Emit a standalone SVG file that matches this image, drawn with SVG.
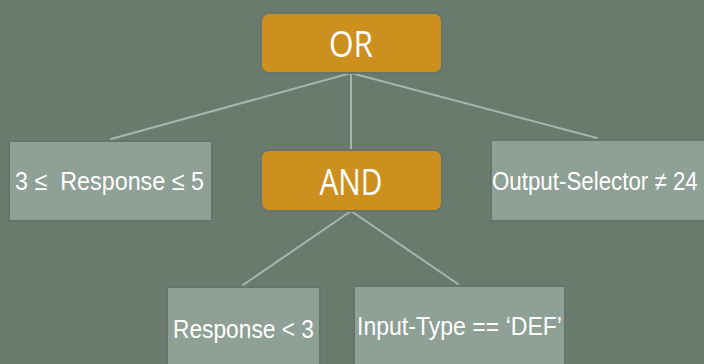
<svg xmlns="http://www.w3.org/2000/svg" width="704" height="364" viewBox="0 0 704 364">
  <defs>
    <style>
      .bg { fill: #6a7b6d; }
      .op rect { fill: #cd901f; stroke: #66766a; stroke-width: 2; }
      .cond rect { fill: #8fa096; stroke: #65756a; stroke-width: 2; }
      .op text { font-family: "Open Sans", "Noto Sans", sans-serif; font-size: 36px; fill: #ffffff; text-anchor: middle; }
      .cond text { font-family: "Liberation Sans", Arial, sans-serif; font-size: 26px; fill: #ffffff; white-space: pre; }
      .edges line { stroke: #a6b6ac; stroke-width: 2; stroke-linecap: round; }
    </style>
  </defs>

  <rect class="bg" x="0" y="0" width="704" height="364"/>

  <!-- connectors -->
  <g id="edges" class="edges">
    <line x1="351" y1="73" x2="111" y2="139"/>
    <line x1="351" y1="73" x2="351" y2="150"/>
    <line x1="351" y1="73" x2="597" y2="138"/>
    <line x1="351" y1="211" x2="243" y2="285"/>
    <line x1="351" y1="211" x2="458" y2="284"/>
  </g>

  <!-- operator nodes -->
  <g id="node-or" class="op">
    <rect x="261" y="13" width="181" height="60" rx="8"/>
    <text x="351" y="57" textLength="44" lengthAdjust="spacingAndGlyphs">OR</text>
  </g>
  <g id="node-and" class="op">
    <rect x="261" y="150" width="181" height="61" rx="8"/>
    <text x="351" y="195" textLength="63" lengthAdjust="spacingAndGlyphs">AND</text>
  </g>

  <!-- condition nodes -->
  <g id="node-range" class="cond">
    <rect x="9" y="141" width="203" height="80"/>
    <text x="15" y="190" xml:space="preserve" textLength="189" lengthAdjust="spacingAndGlyphs">3 ≤  Response ≤ 5</text>
  </g>
  <g id="node-selector" class="cond">
    <rect x="491" y="140" width="220" height="81"/>
    <text transform="translate(492 190) scale(0.85 1)" x="0" y="0" textLength="242" lengthAdjust="spacingAndGlyphs">Output-Selector ≠ 24</text>
  </g>
  <g id="node-response" class="cond">
    <rect x="167" y="287" width="153" height="90"/>
    <text x="173" y="338" textLength="141" lengthAdjust="spacingAndGlyphs">Response &lt; 3</text>
  </g>
  <g id="node-input" class="cond">
    <rect x="354" y="286" width="211" height="90"/>
    <text x="357" y="335" textLength="205" lengthAdjust="spacingAndGlyphs">Input-Type == ‘DEF’</text>
  </g>
</svg>
